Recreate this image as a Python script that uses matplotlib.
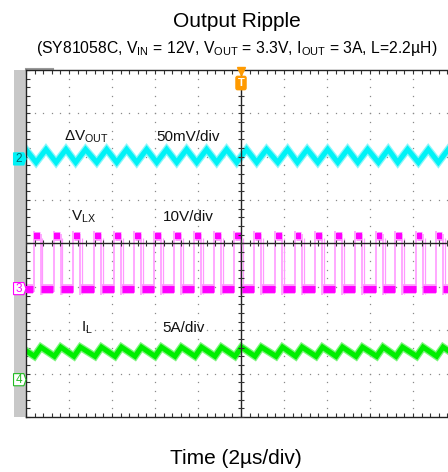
"""Output ripple scope capture: SY81058C buck, 12V -> 3.3V at 3A."""
import numpy as np
import matplotlib
matplotlib.use("Agg")
import matplotlib.pyplot as plt
from matplotlib.patches import Rectangle, Polygon
from matplotlib.ticker import MultipleLocator
from matplotlib.transforms import blended_transform_factory

plt.rcParams['font.family'] = ['Liberation Sans', 'DejaVu Sans']
plt.rcParams['mathtext.fontset'] = 'custom'
plt.rcParams['mathtext.rm'] = 'Liberation Sans'
plt.rcParams['mathtext.default'] = 'regular'

# V_LX rising edges (us, trigger at 0)
rise_us = [-10.55, -9.61, -8.68, -7.77, -6.79, -5.86, -4.93, -4.00, -3.07,
           -2.14, -1.21, -0.28, 0.65, 1.63, 2.54, 3.49, 4.42, 5.35, 6.31,
           7.21, 8.17, 9.10, 10.03]
on_time_us = 0.27

vlx_high_v = 12.2
vlx_low_v = 0.0

il_valley_a = 2.7
il_peak_a = 3.75
il_peak_delay_us = 0.30

vout_valley_mv = -4.0
vout_peak_mv = 11.0
vout_valley_delay_us = 0.08
vout_peak_delay_us = 0.54

# channel reference levels (div) and scales
ch2_offset, ch2_scale = 1.95, 50.0    # mV/div
ch3_offset, ch3_scale = -1.04, 10.0   # V/div
ch4_offset, ch4_scale = -3.14, 5.0    # A/div

CYAN = '#00F2F6'
CYAN_LIGHT = '#8AF6FA'
MAGENTA = '#FF00FF'
PINK = '#FF99FF'
GREEN = '#00EE00'
GREEN_LIGHT = '#7CF57C'
ORANGE = '#FF9A00'


def main():
    fig = plt.figure(figsize=(4.48, 4.72), dpi=100)
    ax = fig.add_axes([26 / 448, 55 / 472, 430 / 448, 347 / 472])
    ax.set_xlim(-10, 10)
    ax.set_ylim(-4, 4)

    # frame and border ticks
    for sp in ax.spines.values():
        sp.set_color('#222222')
        sp.set_linewidth(1.0)
    ax.xaxis.set_major_locator(MultipleLocator(2))
    ax.xaxis.set_minor_locator(MultipleLocator(0.4))
    ax.yaxis.set_major_locator(MultipleLocator(1))
    ax.yaxis.set_minor_locator(MultipleLocator(0.2))
    ax.tick_params(which='both', direction='in', top=True, bottom=True,
                   left=True, right=True, length=3, width=0.8,
                   color='#333333', labelbottom=False, labelleft=False)

    # dotted graticule
    ydots = np.arange(-4, 4.01, 0.2)
    xdots = np.arange(-10, 10.01, 0.4)
    for xv in [-8, -6, -4, -2, 2, 4, 6, 8]:
        ax.plot(np.full(len(ydots), xv), ydots, ls='none', marker='s',
                ms=0.9, mew=0, color='#8a8a8a', zorder=1)
    for yv in [-3, -2, -1, 1, 2, 3]:
        ax.plot(xdots, np.full(len(xdots), yv), ls='none', marker='s',
                ms=0.9, mew=0, color='#8a8a8a', zorder=1)

    rises = np.array(rise_us)
    falls = rises + on_time_us
    n = len(rises)

    # channel 2: output ripple
    vo_t = np.ravel(np.column_stack([rises + vout_valley_delay_us,
                                     rises + vout_peak_delay_us]))
    vo_v = np.tile([vout_valley_mv, vout_peak_mv], n)
    vo_y = ch2_offset + vo_v / ch2_scale
    ax.plot(vo_t, vo_y, color=CYAN_LIGHT, lw=5.5, solid_joinstyle='miter', zorder=2)
    ax.plot(vo_t, vo_y, color=CYAN, lw=3.6, solid_joinstyle='miter', zorder=2)

    # channel 3: switch node
    hi_y = ch3_offset + vlx_high_v / ch3_scale
    lo_y = ch3_offset + vlx_low_v / ch3_scale
    ax.vlines(rises - 0.03, lo_y - 0.08, hi_y + 0.1, color=PINK, lw=1.2, zorder=2)
    ax.vlines(falls + 0.02, lo_y - 0.15, hi_y + 0.05, color=PINK, lw=1.2, zorder=2)
    ax.vlines(falls + 0.10, lo_y - 0.12, hi_y - 0.05, color=PINK, lw=0.9, zorder=2)
    ax.hlines(np.full(n, hi_y), rises, falls, color=PINK, lw=6.5, zorder=2)
    ax.hlines(np.full(n, hi_y), rises, falls, color=MAGENTA, lw=4.5, zorder=3)
    ax.hlines(np.full(n - 1, lo_y), falls[:-1] + 0.04, rises[1:] - 0.05,
              color=PINK, lw=7, zorder=2)
    ax.hlines(np.full(n - 1, lo_y), falls[:-1] + 0.04, rises[1:] - 0.05,
              color=MAGENTA, lw=5, zorder=3)

    # channel 4: inductor current
    il_t = np.ravel(np.column_stack([rises, rises + il_peak_delay_us]))
    il_v = np.tile([il_valley_a, il_peak_a], n)
    il_y = ch4_offset + il_v / ch4_scale
    ax.plot(il_t, il_y, color=GREEN_LIGHT, lw=5.5, solid_joinstyle='miter', zorder=2)
    ax.plot(il_t, il_y, color=GREEN, lw=3.6, solid_joinstyle='miter', zorder=2)

    # centre cross with ticks
    ax.axhline(0, color='#222222', lw=1.0, zorder=4)
    ax.axvline(0, color='#222222', lw=1.0, zorder=4)
    ax.plot(xdots, np.zeros(len(xdots)), ls='none', marker='|', ms=4,
            mew=0.8, color='#333333', zorder=4)
    ax.plot(np.zeros(len(ydots)), ydots, ls='none', marker='_', ms=4,
            mew=0.8, color='#333333', zorder=4)

    # grey side bar and small top indicator
    ax.add_patch(Rectangle((-12 / 430, 0), 12 / 430, 1, transform=ax.transAxes,
                           fc='#C8C8C8', ec='none', clip_on=False, zorder=0))
    ax.plot([0, 27 / 430], [1.003, 1.003], transform=ax.transAxes,
            color='#999999', lw=1.5, clip_on=False)

    # channel tags
    trans = blended_transform_factory(ax.transAxes, ax.transData)
    tags = [(ch2_offset, '2', CYAN, CYAN, '#006a70'),
            (ch3_offset, '3', 'white', MAGENTA, MAGENTA),
            (ch4_offset, '4', 'white', '#22BB22', '#22BB22')]
    for y, lab, fc, ec, tc in tags:
        pts = [(-0.029, y - 0.14), (-0.005, y - 0.14), (0.0, y),
               (-0.005, y + 0.14), (-0.029, y + 0.14)]
        ax.add_patch(Polygon(pts, closed=True, transform=trans, fc=fc, ec=ec,
                             lw=0.8, clip_on=False, zorder=6))
        ax.text(-0.016, y, lab, transform=trans, ha='center', va='center',
                fontsize=8.5, color=tc, zorder=7)

    # trigger marker
    ax.plot(0, 3.97, marker='v', ms=6, color=ORANGE, clip_on=False, zorder=7)
    ax.text(0, 3.70, 'T', ha='center', va='center', color='white', fontsize=8,
            fontweight='bold', zorder=7,
            bbox=dict(boxstyle='round,pad=0.15', fc=ORANGE, ec=ORANGE))

    # channel labels
    lab_kw = dict(fontsize=11, color='#111111', va='baseline', zorder=7)
    ax.text(-8.23, 2.37, r'ΔV$_{OUT}$', **lab_kw)
    ax.text(-3.95, 2.37, '50mV/div', **lab_kw)
    ax.text(-7.91, 0.52, r'V$_{LX}$', **lab_kw)
    ax.text(-3.63, 0.52, '10V/div', **lab_kw)
    ax.text(-7.44, -2.03, r'I$_{L}$', **lab_kw)
    ax.text(-3.67, -2.03, '5A/div', **lab_kw)

    fig.text(0.529, 1 - 27 / 472, 'Output Ripple', ha='center', va='baseline',
             fontsize=15)
    fig.text(0.528, 1 - 53.5 / 472,
             r'(SY81058C, V$_{IN}$ = 12V, V$_{OUT}$ = 3.3V, I$_{OUT}$ = 3A, L=2.2µH)',
             ha='center', va='baseline', fontsize=11.3)
    fig.text(0.526, 1 - 464 / 472, 'Time (2µs/div)', ha='center', va='baseline',
             fontsize=15)

    fig.savefig('out.png', dpi=100)
    plt.close(fig)


if __name__ == "__main__":
    main()
